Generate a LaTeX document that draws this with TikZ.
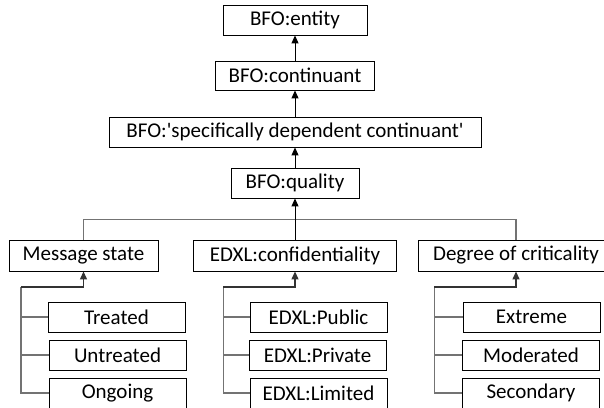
\documentclass[tikz,border=0pt]{standalone}
\usepackage{fontspec}
\setmainfont{Carlito}
\usetikzlibrary{arrows.meta}
\begin{document}
\begin{tikzpicture}[x=1pt,y=-1pt,
  box/.style={draw=black,line width=0.9pt,fill=white,inner sep=0pt,minimum height=30pt,font=\fontsize{21}{22}\selectfont,text=black},
  kid/.style={box,minimum width=137pt},
  arr/.style={draw=black,line width=1pt,-{Triangle[length=8pt,width=7pt]}},
  gline/.style={draw=black!55,line width=1.3pt},
  eline/.style={draw=black!80,line width=1.3pt}]
\fill[white] (0,0) rectangle (604,407);
\useasboundingbox (0,0) rectangle (604,407);
\clip (0,0) rectangle (604,407);
% top chain
\node[box,minimum width=144pt] (entity) at (295,20) {BFO:entity};
\node[box,minimum width=159pt,minimum height=29pt] (cont) at (295,75.5) {BFO:continuant};
\node[box,minimum width=372pt] (sdc) at (295,132) {BFO:\textquotesingle specifically dependent continuant\textquotesingle};
\node[box,minimum width=128pt] (qual) at (295,183) {BFO:quality};
% second level
\node[box,minimum width=149pt,minimum height=31pt] (ms) at (83.5,255.5) {Message state};
\node[box,minimum width=203pt,minimum height=31pt] (conf) at (295,255.5) {EDXL:confidentiality};
\node[box,minimum width=196pt,minimum height=31pt] (dc) at (516,255.5) {Degree of criticality};
% children
\node[kid] (ms1) at (116.5,317) {Treated};
\node[kid] (ms2) at (117.5,355) {Untreated};
\node[kid] (ms3) at (117.5,393) {Ongoing};
\node[kid] (cf1) at (318.5,317) {EDXL:Public};
\node[kid] (cf2) at (317.5,355) {EDXL:Private};
\node[kid] (cf3) at (318.5,393) {EDXL:Limited};
\node[kid] (dc1) at (531.5,317) {Extreme};
\node[kid] (dc2) at (531,355) {Moderated};
\node[kid] (dc3) at (531,393) {Secondary};
\coordinate (msv) at (21,287);
\coordinate (cfv) at (223.3,287);
\coordinate (dcv) at (434.3,287);
% gray bracket joining second level
\draw[gline] (ms.north) -- ++(0,-20) -| (dc.north);
% arrows in the top chain
\draw[arr] (cont) -- (entity);
\draw[arr] (sdc) -- (cont);
\draw[arr] (qual) -- (sdc);
\draw[arr] (conf) -- (qual);
% child trees
\foreach \p/\v/\a/\b/\c in {ms/msv/ms1/ms2/ms3, conf/cfv/cf1/cf2/cf3, dc/dcv/dc1/dc2/dc3}{
  \draw[gline] (\c.west) -| (\v);
  \draw[gline] (\a.west) -- (\a.west -| \v);
  \draw[gline] (\b.west) -- (\b.west -| \v);
  \draw[eline,-{Triangle[length=8pt,width=7pt]}] (\v) -| (\p.south);
}
\end{tikzpicture}
\end{document}
